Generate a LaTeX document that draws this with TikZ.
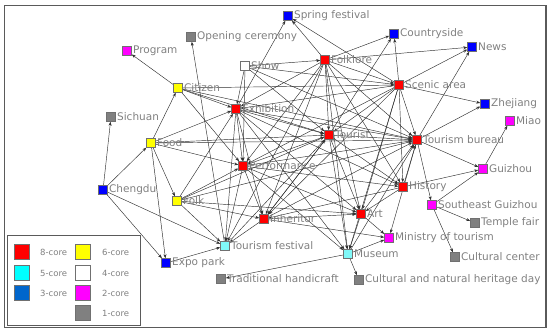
\documentclass[tikz,border=0pt]{standalone}
\usepackage{fontspec}
\setmainfont{DejaVu Sans}
\usetikzlibrary{arrows.meta}
\pgfdeclarelayer{bg}
\pgfsetlayers{bg,main}
\definecolor{cRed}{HTML}{FF0000}
\definecolor{cYel}{HTML}{FFFF00}
\definecolor{cCyan}{HTML}{00FFFF}
\definecolor{cCyanN}{HTML}{80F8F8}
\definecolor{cBlue3}{HTML}{0066CC}
\definecolor{cBlue}{HTML}{0000FF}
\definecolor{cMag}{HTML}{FF00FF}
\definecolor{cGray}{HTML}{808080}
\definecolor{cBorder}{HTML}{707070}
\definecolor{cText}{HTML}{808080}
\definecolor{cEdge}{HTML}{303030}
\definecolor{cFrame}{HTML}{5A5A5A}
\newcommand\gnode[5]{\node[core,fill=#4] (#1) at (#2,#3) {}; \node[lbl] (#1t) at (#1.east) {#5};}
\begin{document}
\begin{tikzpicture}[x=1pt,y=-1pt,
  core/.style={draw=cBorder,line width=0.6pt,minimum size=9.5pt,inner sep=0pt,outer sep=0pt},
  lbl/.style={anchor=west,text=cText,font=\fontsize{10.5}{12}\selectfont,inner sep=1.2pt},
  lnk/.style={draw=cEdge,line width=0.45pt,-{Stealth[length=4pt,width=3pt]}},
  legsq/.style={draw=cBorder,line width=0.6pt,minimum size=15pt,inner sep=0pt},
  legtx/.style={anchor=west,text=cText,font=\fontsize{8.5}{9}\selectfont,inner sep=0pt}]
\useasboundingbox (0,0) rectangle (550,334);
\draw[cFrame,line width=1.2pt] (4.5,5.5) rectangle (546,327.5);

% nodes
\gnode{OC}{191}{37}{cGray}{Opening ceremony}
\gnode{Pg}{127}{51}{cMag}{Program}
\gnode{SF}{288}{16}{cBlue}{Spring festival}
\gnode{Co}{394}{34}{cBlue}{Countryside}
\gnode{Ne}{472}{47}{cBlue}{News}
\gnode{Sh}{245}{66}{white}{Show}
\gnode{Fo}{325}{60}{cRed}{Folklore}
\gnode{Ci}{178}{88}{cYel}{Citizen}
\gnode{Sc}{399}{85}{cRed}{Scenic area}
\gnode{Ex}{236}{109}{cRed}{Exhibition}
\gnode{Zh}{485}{104}{cBlue}{Zhejiang}
\gnode{Mi}{510}{121}{cMag}{Miao}
\gnode{Si}{111}{117}{cGray}{Sichuan}
\gnode{Tu}{329}{135}{cRed}{Tourist}
\gnode{TB}{417}{140}{cRed}{Tourism bureau}
\gnode{Fd}{151}{143}{cYel}{Food}
\gnode{Pe}{243}{166}{cRed}{Performance}
\gnode{Gu}{483}{169}{cMag}{Guizhou}
\gnode{Ch}{103}{190}{cBlue}{Chengdu}
\gnode{Hi}{403}{187}{cRed}{History}
\gnode{Fk}{177}{201}{cYel}{Folk}
\gnode{SG}{432}{205}{cMag}{Southeast Guizhou}
\gnode{In}{264}{219}{cRed}{Inheritor}
\gnode{Ar}{361}{214}{cRed}{Art}
\gnode{TP}{475}{223}{cGray}{Temple fair}
\gnode{TF}{225}{246}{cCyanN}{Tourism festival}
\gnode{MT}{389}{238}{cMag}{Ministry of tourism}
\gnode{Mu}{348}{254}{cCyanN}{Museum}
\gnode{CC}{455}{257}{cGray}{Cultural center}
\gnode{EP}{166}{263}{cBlue}{Expo park}
\gnode{TH}{221}{279}{cGray}{Traditional handicraft}
\gnode{CH}{359}{280}{cGray}{Cultural and natural heritage day}

\begin{pgfonlayer}{bg}
\foreach \a/\b in {
  Ch/Si, Ch/Fd, Ch/EP, Ch/TF, Fd/EP, Fd/Ci, Fd/Pe, Fd/Tu, Fd/TB, Fd/Ex, Fd/Fk,
  Ci/Pg, Ci/Sc, Ci/Ex, Ci/Tu, Ci/Pe, Ci/TB,
  TF/OC, Ex/SF, Fo/SF, Sc/SF,
  Fo/Co, Fo/Ne, Sc/Ne, TB/Ne, Tu/Co, Sc/Co,
  Sc/Zh, TB/Zh, TB/Gu, Gu/Mi, Hi/Gu, SG/Gu,
  SG/TP, SG/CC, TB/SG,
  Mu/CH, Mu/TH, EP/TF,
  Ar/MT, In/MT, Mu/MT, TB/MT,
  Sh/Ex, Sh/Fo, Sh/Tu, Sh/Pe, Sh/TB, Sh/Sc,
  Fk/TF, Fk/Pe, Fk/Ex, Fk/In, Fk/Tu, Fk/Ar, Fk/TB,
  Fo/Ex, Fo/Tu, Fo/TB, Fo/Pe, Fo/Hi, Fo/In, Fo/Ar, Fo/Sc, Fo/Mu, Fo/TF,
  Sc/Tu, Sc/TB, Sc/Ex, Sc/Pe, Sc/Ar, Sc/Hi, Sc/Mu, Sc/In,
  Ex/Tu, Ex/TB, Ex/Pe, Ex/In, Ex/Ar, Ex/Hi, Ex/TF, Ex/Mu,
  Tu/TB, Tu/Pe, Tu/Ar, Tu/Mu, Tu/Hi, Tu/In,
  Pe/TB, Pe/In, Pe/Ar, Pe/TF, Pe/Hi, Pe/Mu,
  Hi/TB, Hi/Ar, Hi/In,
  In/TB, In/Ar, In/TF, In/Tu,
  Ar/TB, Ar/Mu, Mu/TB, TF/Tu}
  \draw[lnk] (\a) -- (\b);
\end{pgfonlayer}

% legend
\draw[cFrame,line width=0.8pt,fill=white] (7,235) rectangle (140,325);
\node[legsq,fill=cRed] (L8) at (22,252) {};
\node[legtx] (L8t) at (40,252) {8-core};
\node[legsq,fill=cYel] (L6) at (83,252) {};
\node[legtx] (L6t) at (102,252) {6-core};
\node[legsq,fill=cCyan] (L5) at (22,273) {};
\node[legtx] (L5t) at (40,273) {5-core};
\node[legsq,fill=white] (L4) at (83,273) {};
\node[legtx] (L4t) at (102,273) {4-core};
\node[legsq,fill=cBlue3] (L3) at (22,293) {};
\node[legtx] (L3t) at (40,293) {3-core};
\node[legsq,fill=cMag] (L2) at (83,293) {};
\node[legtx] (L2t) at (102,293) {2-core};
\node[legsq,fill=cGray] (L1) at (83,313) {};
\node[legtx] (L1t) at (102,313) {1-core};
\end{tikzpicture}
\end{document}
